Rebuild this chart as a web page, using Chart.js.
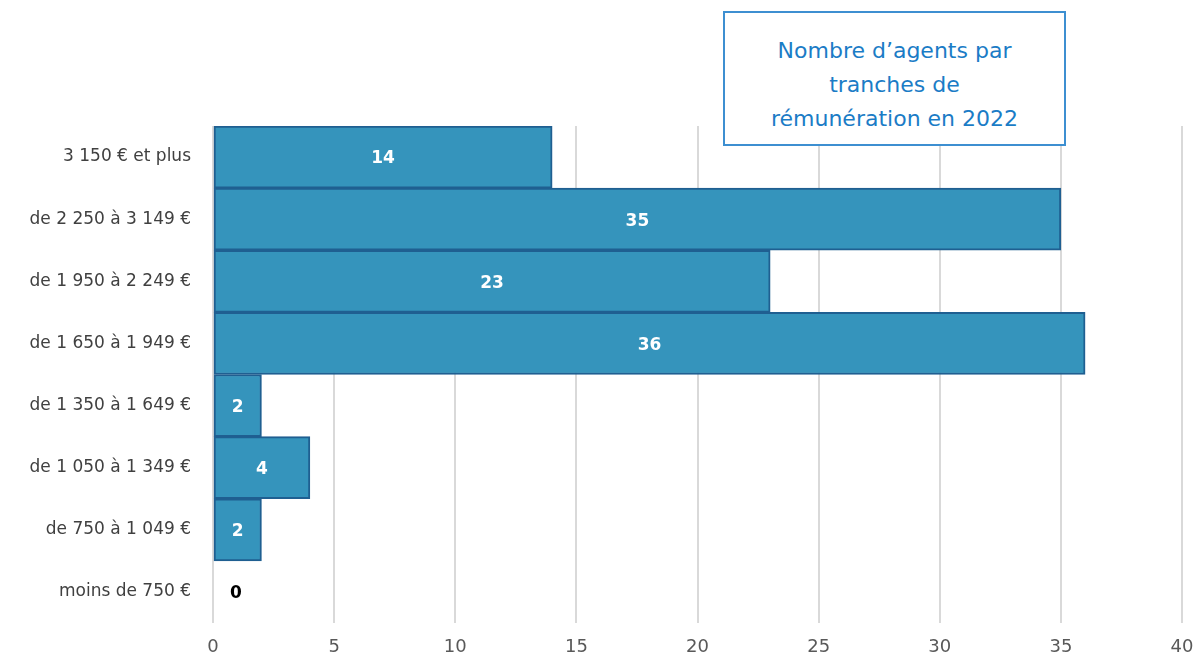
<!DOCTYPE html>
<html>
<head>
<meta charset="utf-8">
<script src="https://cdn.jsdelivr.net/npm/chart.js@4"></script>
<style>
  body { margin: 0; background: #fff; }
  #wrap { position: relative; width: 1204px; height: 661px; }
  #title {
    position: absolute; left: 723px; top: 11px; width: 339px; height: 119px; padding-top: 12px;
    border: 2px solid #3d8fd1; background: #fff; color: #1b7cc6;
    font-family: "DejaVu Sans", sans-serif; font-size: 22px; line-height: 34px;
    text-align: center; display: flex; align-items: center; justify-content: center;
  }
</style>
</head>
<body>
<div id="wrap">
  <canvas id="chart" width="1204" height="661"></canvas>
  <div id="title">Nombre d’agents par<br>tranches de<br>rémunération en 2022</div>
</div>
<script>
const categories = ['3 150 € et plus', 'de 2 250 à 3 149 €', 'de 1 950 à 2 249 €', 'de 1 650 à 1 949 €',
  'de 1 350 à 1 649 €', 'de 1 050 à 1 349 €', 'de 750 à 1 049 €', 'moins de 750 €'];
const agents = [14, 35, 23, 36, 2, 4, 2, 0];
const xTicks = [0, 5, 10, 15, 20, 25, 30, 35, 40];

const FONT = '"DejaVu Sans", sans-serif';

// value labels in the middle of each bar
const barLabels = {
  id: 'barLabels',
  afterDatasetsDraw(chart) {
    const ctx = chart.ctx;
    const meta = chart.getDatasetMeta(0);
    ctx.save();
    ctx.font = 'bold 17px ' + FONT;
    ctx.textAlign = 'center';
    ctx.textBaseline = 'middle';
    meta.data.forEach((bar, i) => {
      const v = agents[i];
      let x = (bar.x + bar.base) / 2;
      if (v === 0) {
        x = bar.base + 23;
        ctx.fillStyle = '#000';
      } else {
        ctx.fillStyle = '#fff';
      }
      ctx.fillText(String(v), x, bar.y + 2);
    });
    ctx.restore();
  }
};

new Chart(document.getElementById('chart'), {
  type: 'bar',
  data: {
    labels: categories,
    datasets: [{
      data: agents,
      backgroundColor: '#3594bc',
      borderColor: '#1f5f91',
      borderWidth: 2,
      borderSkipped: false,
      barPercentage: 1,
      categoryPercentage: 1
    }]
  },
  options: {
    indexAxis: 'y',
    responsive: false,
    animation: false,
    layout: { padding: { top: 126, right: 22, left: 0, bottom: 0 } },
    plugins: { legend: { display: false }, tooltip: { enabled: false } },
    scales: {
      x: {
        min: 0, max: 40,
        afterBuildTicks: s => { s.ticks = xTicks.map(v => ({ value: v })); },
        afterFit: s => { s.height = 38; s.paddingLeft = 0; s.paddingRight = 0; },
        grid: { color: '#d9d9d9', lineWidth: 2, drawTicks: false },
        border: { display: false },
        ticks: { color: '#595959', font: { family: FONT, size: 18 }, padding: 14 }
      },
      y: {
        afterFit: s => { s.width = 213; },
        grid: { display: false },
        border: { display: false },
        ticks: { color: '#404040', font: { family: FONT, size: 17 }, padding: 14 }
      }
    }
  },
  plugins: [barLabels]
});
</script>
</body>
</html>
